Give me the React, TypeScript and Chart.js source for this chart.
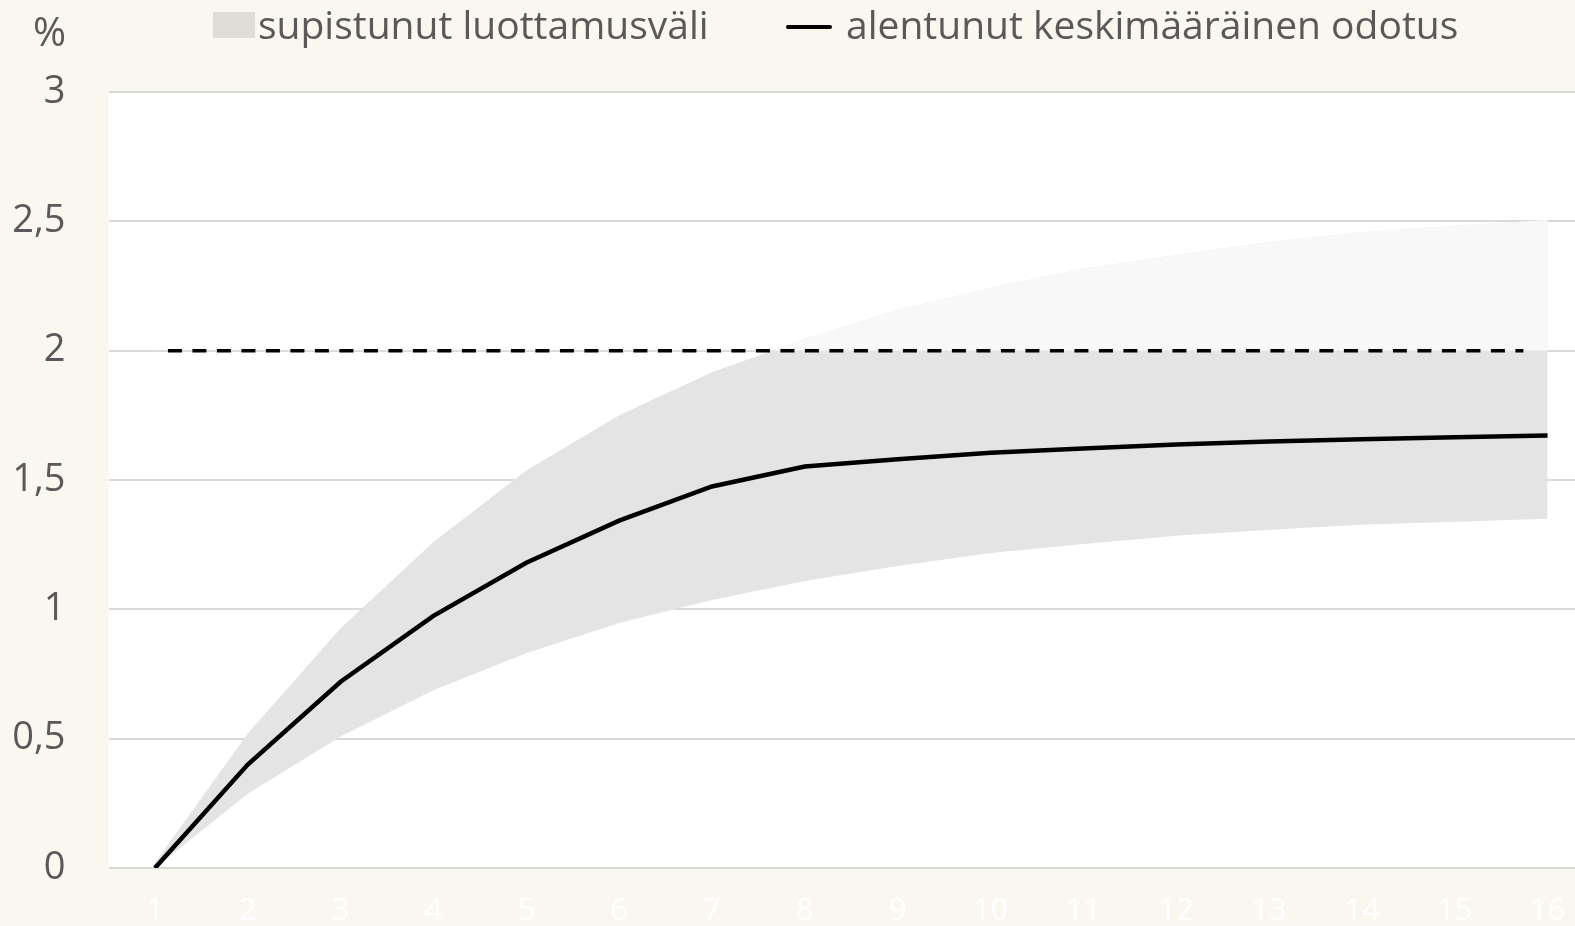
import React, { useEffect, useRef } from "react";
import { Chart, registerables } from "chart.js";

Chart.register(...registerables);

const categories = ["1", "2", "3", "4", "5", "6", "7", "8", "9", "10", "11", "12", "13", "14", "15", "16"];
const meanValues = [0, 0.4, 0.72, 0.975, 1.18, 1.343, 1.475, 1.552, 1.58, 1.605, 1.622, 1.637, 1.649, 1.658, 1.665, 1.672];
const upperValues = [0.02, 0.52, 0.927, 1.26, 1.537, 1.75, 1.917, 2.045, 2.157, 2.243, 2.317, 2.37, 2.42, 2.458, 2.483, 2.505];
const lowerValues = [0, 0.287, 0.508, 0.687, 0.83, 0.947, 1.036, 1.11, 1.168, 1.218, 1.253, 1.284, 1.308, 1.327, 1.339, 1.35];
const targetX = [1.14, 15.74];
const targetY = [2, 2];
const yTicks = [0, 0.5, 1, 1.5, 2, 2.5, 3];
const legendBand = "supistunut luottamusväli";
const legendMean = "alentunut keskimääräinen odotus";
const yUnit = "%";

const BG = "#FAF6F0";
const TEXT = "#595959";
const FONT = "'Open Sans', 'Noto Sans', sans-serif";
const CANVAS_W = 1594;
const CANVAS_H = 926;

export default function App() {
  const ref = useRef<HTMLCanvasElement | null>(null);

  useEffect(() => {
    if (!ref.current) return;
    const plotBg = {
      id: "plotBg",
      beforeDraw(chart: any) {
        const { ctx, chartArea } = chart;
        ctx.save();
        ctx.fillStyle = "#FFFFFF";
        ctx.fillRect(chartArea.left, chartArea.top, chartArea.right - chartArea.left, chartArea.bottom - chartArea.top);
        ctx.restore();
      },
    };
    const chart = new Chart(ref.current, {
      type: "line",
      data: {
        labels: categories,
        datasets: [
          {
            label: legendMean,
            data: meanValues,
            borderColor: "#000000",
            borderWidth: 4.5,
            pointRadius: 0,
            fill: false,
            tension: 0,
          },
          {
            label: "target",
            data: targetX.map((x, i) => ({ x, y: targetY[i] })),
            xAxisID: "xd",
            borderColor: "#000000",
            borderWidth: 3.5,
            borderDash: [14, 10.5],
            pointRadius: 0,
            fill: false,
          },
          {
            label: "upper",
            data: upperValues,
            borderWidth: 0,
            borderColor: "rgba(0,0,0,0)",
            pointRadius: 0,
            fill: { target: { value: 2 }, above: "#F8F8F8", below: "rgba(0,0,0,0)" },
          },
          {
            label: legendBand,
            data: lowerValues,
            borderWidth: 0,
            borderColor: "rgba(0,0,0,0)",
            backgroundColor: "#E4E4E4",
            pointRadius: 0,
            fill: 2,
          },
        ],
      },
      options: {
        animation: false,
        responsive: false,
        layout: { padding: { top: 92, left: 0, right: 0, bottom: 0 } },
        plugins: {
          legend: { display: false },
          tooltip: { enabled: false },
        },
        scales: {
          x: {
            type: "category",
            offset: true,
            grid: { display: false, drawTicks: false },
            border: { display: false },
            ticks: { color: "#FFFFFF", font: { family: FONT, size: 31 }, padding: 25, maxRotation: 0, autoSkip: false },
            afterFit(scale: any) {
              scale.height = 58;
              scale.paddingLeft = 0;
              scale.paddingRight = 0;
            },
          },
          xd: {
            type: "linear",
            display: false,
            min: 0.5,
            max: 16.5,
          },
          y: {
            min: 0,
            max: 3,
            afterBuildTicks(scale: any) {
              scale.ticks = yTicks.map((v) => ({ value: v }));
            },
            grid: { color: "#D9D9D9", lineWidth: 2, drawTicks: false },
            border: { display: false },
            ticks: {
              color: TEXT,
              font: { family: FONT, size: 38 },
              padding: 43,
              callback: (v: any) => String(v).replace(".", ","),
            },
            afterFit(scale: any) {
              scale.width = 108.5;
              scale.paddingTop = 0;
              scale.paddingBottom = 0;
            },
          },
        },
      },
      plugins: [plotBg],
    });
    return () => chart.destroy();
  }, []);

  return (
    <div style={{ position: "fixed", left: 0, top: 0, width: 1575, height: 926, overflow: "hidden", background: BG, fontFamily: FONT }}>
      <canvas ref={ref} width={CANVAS_W} height={CANVAS_H} style={{ position: "absolute", left: 0, top: 0, width: CANVAS_W, height: CANVAS_H }} />
      <div style={{ position: "absolute", left: 33, top: 6, fontSize: 40, color: TEXT, lineHeight: "50px" }}>{yUnit}</div>
      <div style={{ position: "absolute", left: 213, top: 12, width: 42, height: 26, background: "#E0DDD8" }} />
      <div style={{ position: "absolute", left: 258, top: -2, fontSize: 39, color: TEXT, lineHeight: "52px", whiteSpace: "nowrap" }}>{legendBand}</div>
      <div style={{ position: "absolute", left: 786, top: 25, width: 46, height: 4, background: "#000", borderRadius: 2 }} />
      <div style={{ position: "absolute", left: 846, top: -2, fontSize: 39, color: TEXT, lineHeight: "52px", whiteSpace: "nowrap" }}>{legendMean}</div>
    </div>
  );
}
